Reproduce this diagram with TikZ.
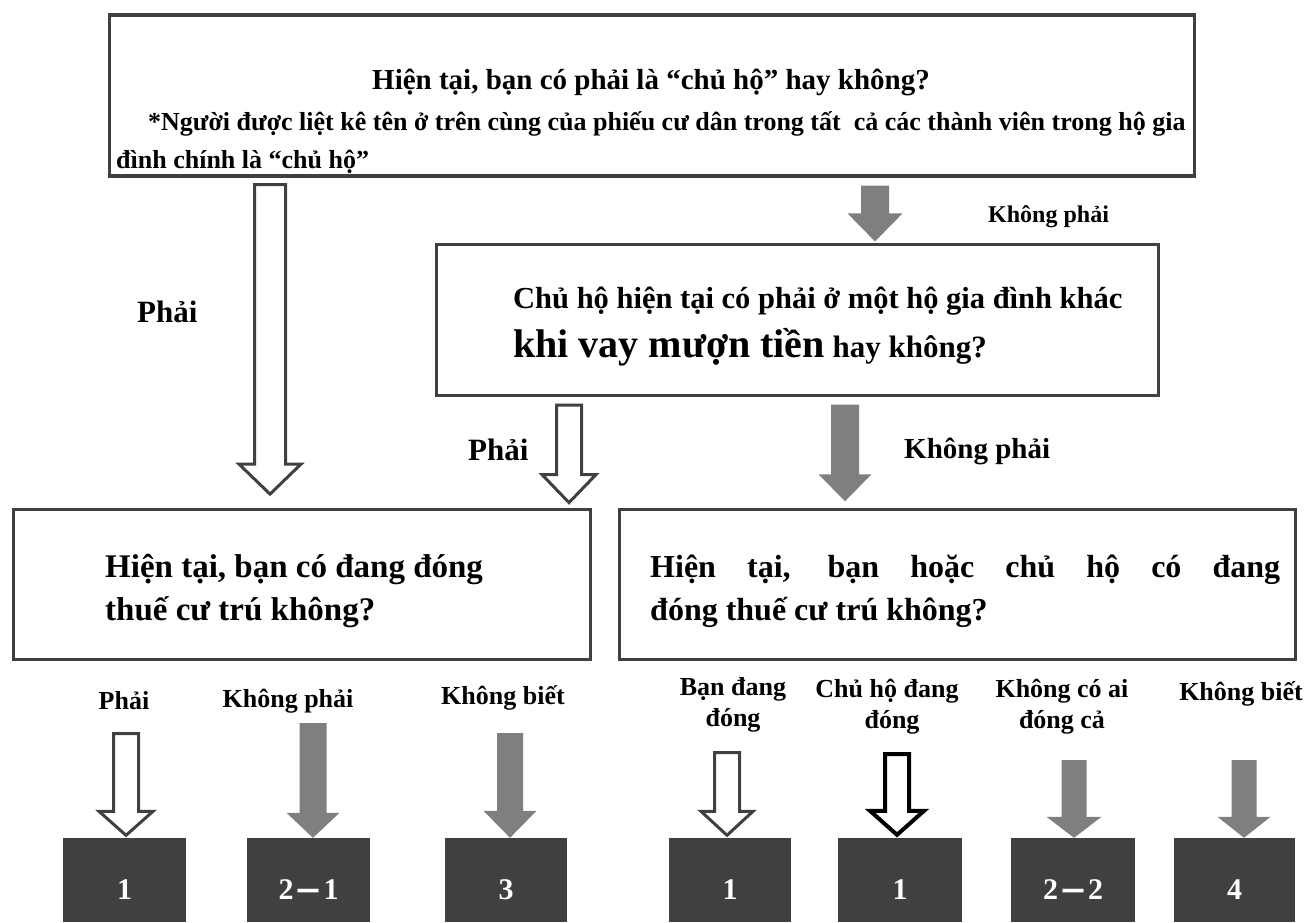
\documentclass[tikz,border=0pt]{standalone}
\usepackage{fontspec}
\setmainfont{Liberation Serif}
\newfontfamily\cjk{Noto Sans CJK JP}
\usetikzlibrary{calc}
\definecolor{dg}{RGB}{64,64,64}
\definecolor{ag}{RGB}{127,127,127}
\newcommand\fs[1]{\fontsize{#1}{#1}\selectfont\bfseries}
\newcommand\fdash{\raisebox{-3.5pt}{\cjk －}}
% block arrow: style, x, from, to, half shaft, half head, head length
\newcommand\barrow[7]{%
  \draw[#1] let \p1=(#3), \p2=(#4) in
   ({#2pt-#5pt},\y1) -- ({#2pt+#5pt},\y1) -- ({#2pt+#5pt},{\y2+#7pt}) -- ({#2pt+#6pt},{\y2+#7pt})
   -- (#2pt,\y2) -- ({#2pt-#6pt},{\y2+#7pt}) -- ({#2pt-#5pt},{\y2+#7pt}) -- cycle;}
\begin{document}
\begin{tikzpicture}[x=1pt,y=-1pt,
  qbox/.style={draw=dg, line width=3.2pt, rectangle, inner sep=0pt, fill=white},
  numbox/.style={fill=dg, rectangle, inner sep=0pt, minimum height=84pt, text height=61pt, text depth=23pt, text=white, font=\fs{30}},
  txt/.style={inner sep=0pt, font=\bfseries},
  hollow/.style={draw=dg, line width=3pt, fill=white, line join=miter},
  hollowk/.style={draw=black, line width=4pt, fill=white, line join=miter},
  grayar/.style={fill=ag, draw=none}]
\useasboundingbox (0,0) rectangle (1311,922);
% question boxes
\node[qbox, minimum width=1085pt, minimum height=161pt] (top) at (652,95.5) {};
\node[qbox, minimum width=722pt, minimum height=151pt] (mid) at (797.5,320) {};
\node[qbox, line width=2.8pt, minimum width=577pt, minimum height=150pt] (left) at (302,584.5) {};
\node[qbox, line width=3.5pt, minimum width=676pt, minimum height=150pt] (right) at (957.5,584.5) {};
% texts in boxes
\node[txt, font=\fs{29}, anchor=base] (t1) at (651,89) {Hiện tại, bạn có phải là “chủ hộ” hay không?};
\node[txt, font=\fs{26}, anchor=base west] (t2) at (148,130) {*Người được liệt kê tên ở trên cùng của phiếu cư dân trong tất\ \ cả các thành viên trong hộ gia};
\node[txt, font=\fs{26}, anchor=base west] (t3) at (116,168) {đình chính là “chủ hộ”};
\node[txt, font=\fs{30.5}, anchor=base west] (m1) at (513,308) {Chủ hộ hiện tại có phải ở một hộ gia đình khác};
\node[txt, font=\fs{31}, anchor=base west] (m2) at (513,357) {{\fs{40}khi vay mượn tiền} hay không?};
\node[txt, font=\fs{33}, anchor=base west] (l1) at (105,577) {Hiện tại, bạn có đang đóng};
\node[txt, font=\fs{33}, anchor=base west] (l2) at (105,620) {thuế cư trú không?};
\node[txt, font=\fs{32}, anchor=base west] (r1) at (650,577) {\makebox[630pt][s]{Hiện tại, bạn hoặc chủ hộ có đang}};
\node[txt, font=\fs{32}, anchor=base west] (r2) at (650,620) {đóng thuế cư trú không?};
% labels
\node[txt, font=\fs{31}, anchor=base west] (lp1) at (137,322) {Phải};
\node[txt, font=\fs{24}, anchor=base west] (lk1) at (988,222) {Không phải};
\node[txt, font=\fs{31}, anchor=base west] (lp2) at (468,460) {Phải};
\node[txt, font=\fs{29}, anchor=base west] (lk2) at (904,458) {Không phải};
% result boxes
\node[numbox, minimum width=123pt] (n1) at (124.5,880) {1};
\node[numbox, minimum width=123pt] (n21) at (308.5,880) {2\fdash1};
\node[numbox, minimum width=122pt] (n3) at (506,880) {3};
\node[numbox, minimum width=122pt] (n1b) at (730,880) {1};
\node[numbox, minimum width=124pt] (n1c) at (900,880) {1};
\node[numbox, minimum width=124pt] (n22) at (1073,880) {2\fdash2};
\node[numbox, minimum width=121pt] (n4) at (1234.5,880) {4};
% bottom labels
\node[txt, font=\fs{26}, anchor=base] (b1) at (124,709) {Phải};
\node[txt, font=\fs{26}, anchor=base] (b2) at (288,707) {Không phải};
\node[txt, font=\fs{26}, anchor=base] (b3) at (503,704) {Không biết};
\node[txt, font=\fs{26}, anchor=base] (b4a) at (733,695) {Bạn đang};
\node[txt, font=\fs{26}, anchor=base] (b4b) at (733,726) {đóng};
\node[txt, font=\fs{26}, anchor=base] (b5a) at (887,697) {Chủ hộ đang};
\node[txt, font=\fs{26}, anchor=base] (b5b) at (892,728) {đóng};
\node[txt, font=\fs{26}, anchor=base] (b6a) at (1062,697) {Không có ai};
\node[txt, font=\fs{26}, anchor=base] (b6b) at (1062,728) {đóng cả};
\node[txt, font=\fs{26}, anchor=base] (b7) at (1241,700) {Không biết};
% free starts of bottom arrows
\coordinate (s1) at (126,733.5);
\coordinate (s2) at (313,723);
\coordinate (s3) at (510,733);
\coordinate (s4) at (727,752.5);
\coordinate (s5) at (897,754);
\coordinate (s6) at (1074,760);
\coordinate (s7) at (1244,760);
% arrows between boxes
\barrow{hollow}{270}{[yshift=-7pt]top.south}{[yshift=14pt]left.north}{15.5}{31}{30}
\barrow{grayar}{875}{[yshift=-8pt]top.south}{[yshift=1.5pt]mid.north}{14}{27.5}{28}
\barrow{hollow}{569}{[yshift=-8pt]mid.south}{[yshift=5.5pt]left.north}{12.5}{27}{28}
\barrow{grayar}{845}{[yshift=-7.5pt]mid.south}{[yshift=6.5pt]right.north}{14}{26.5}{27}
% arrows to results
\barrow{hollow}{126}{s1}{[yshift=2.5pt]n1.north}{12.5}{27}{24}
\barrow{grayar}{313}{s2}{n21.north}{13.5}{26.5}{25}
\barrow{grayar}{510}{s3}{n3.north}{13}{26.5}{27}
\barrow{hollow}{727}{s4}{[yshift=2.5pt]n1b.north}{12.5}{26}{24}
\barrow{hollowk}{897}{s5}{[yshift=3pt]n1c.north}{12}{27}{24}
\barrow{grayar}{1074}{s6}{n22.north}{12.5}{27.5}{21}
\barrow{grayar}{1244}{s7}{n4.north}{12.5}{26.5}{21}
\end{tikzpicture}
\end{document}
